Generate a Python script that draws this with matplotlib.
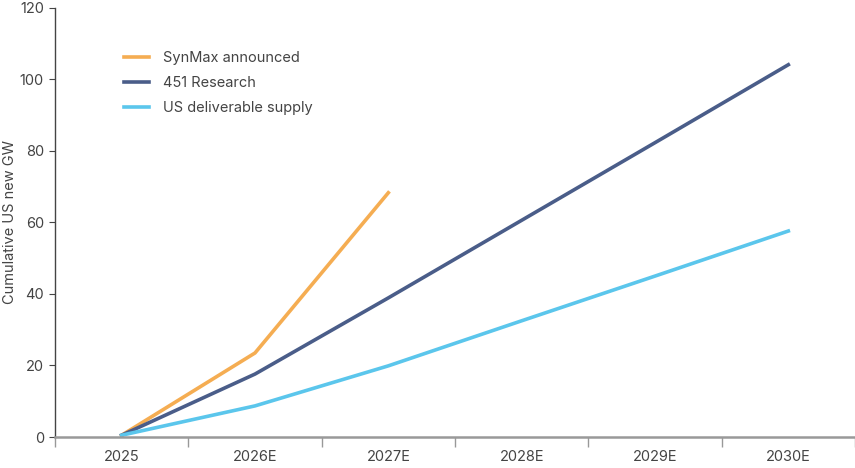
import numpy as np
import matplotlib
matplotlib.use('Agg')
import matplotlib.pyplot as plt

years = ['2025', '2026E', '2027E', '2028E', '2029E', '2030E']
synmax = [0.5, 23.5, 68.3]
research_451 = [0.5, 17.6, 38.9, 60.6, 82.3, 104.1]
deliverable = [0.5, 8.7, 19.9, 32.5, 45.0, 57.6]

plt.rcParams['font.family'] = ['Inter', 'DejaVu Sans']
TEXT = '#444444'

fig = plt.figure(figsize=(8.55, 4.68), dpi=100)
ax = fig.add_axes([0.0643, 0.0662, 0.9357, 0.917])

x = np.arange(len(years))
ax.plot(x[:len(synmax)], synmax, color='#F5AD52', lw=2.6, label='SynMax announced')
ax.plot(x, research_451, color='#4A5D89', lw=2.6, label='451 Research')
ax.plot(x, deliverable, color='#5BC6EC', lw=2.6, label='US deliverable supply')

ax.set_xlim(-0.5, len(years) - 0.5)
ax.set_ylim(0, 120)
ax.set_yticks(np.arange(0, 121, 20))
ax.set_xticks(x)
ax.set_xticklabels(years)
ax.set_xticks(np.arange(-0.5, len(years)), minor=True)
ax.tick_params(axis='x', which='major', length=0, pad=9, labelsize=10.5, colors=TEXT)
ax.tick_params(axis='x', which='minor', length=7, color='#999999', width=1)
ax.tick_params(axis='y', length=4, labelsize=10.5, colors=TEXT, pad=4)

for s in ['top', 'right']:
    ax.spines[s].set_visible(False)
ax.spines['bottom'].set_color('#999999')
ax.spines['bottom'].set_linewidth(1.8)
ax.spines['left'].set_color('#444444')
ax.spines['left'].set_linewidth(1.0)

ax.set_ylabel('Cumulative US new GW', color=TEXT, fontsize=10.5)
ax.yaxis.set_label_coords(-0.047, 0.5)

leg = ax.legend(loc='upper left', bbox_to_anchor=(0.07, 0.93), frameon=False,
                fontsize=10.5, handlelength=1.7, handletextpad=0.95, labelspacing=0.75)
for t in leg.get_texts():
    t.set_color(TEXT)

fig.savefig('out.png', dpi=100)
